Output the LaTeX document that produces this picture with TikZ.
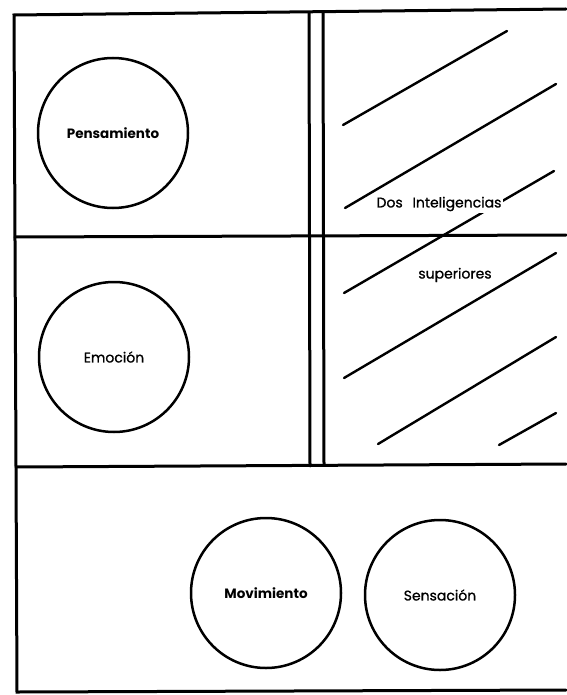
\documentclass[tikz,border=0pt]{standalone}
\usepackage{fontspec}
\setmainfont{Poppins}
\newfontfamily\medfont{Poppins}[FakeBold=0.9]
\usepackage{tikz}
\usetikzlibrary{positioning}

\begin{document}
\begin{tikzpicture}[x=1pt, y=-1pt,
  wall/.style={line width=3pt, line cap=round},
  hatch/.style={line width=2.4pt, line cap=round},
  region/.style={draw, circle, line width=2.5pt, minimum size=150pt, inner sep=0pt, font=\fontsize{14}{16}\medfont},
  tag/.style={inner sep=1.5pt, font=\fontsize{14}{16}\medfont}
]
  \useasboundingbox (0,0) rectangle (566,695);

  % outer frame and cells
  \coordinate (tl) at (14,15);
  \coordinate (tr) at (566,9);
  \coordinate (bl) at (17,692);
  \coordinate (br) at (566,690);
  \draw[wall] (tr) -- (tl) -- (bl) -- (br);
  \draw[wall] (15,237) -- (566,235);
  \draw[wall] (16,467) -- (566,464);
  \draw[wall] (309,13) -- (310,466);
  \draw[wall] (323,13) -- (324,465);

  % hatching of the right cells
  \draw[hatch] (343,125) -- (507,31);
  \draw[hatch] (345,208) -- (556,84);
  \draw[hatch] (554,171) -- (344,293);
  \draw[hatch] (344,378) -- (556,253);
  \draw[hatch] (378,444) -- (556,337);
  \draw[hatch] (499,445) -- (556,413);

  \node[tag, fill=white] (dos) at (439,204) {Dos\hspace{0.7em}Inteligencias};
  \node[tag] (sup) at (455,275) {superiores};

  % centres
  \node[region, font=\fontsize{13.5}{16}\selectfont\bfseries] (pens) at (113,133) {Pensamiento};
  \node[region] (emo) at (114,357) {Emoción};
  \node[region, font=\fontsize{13.5}{16}\selectfont\bfseries] (mov) at (266,593) {Movimiento};
  \node[region] (sens) at (440,595) {Sensación};
\end{tikzpicture}
\end{document}
